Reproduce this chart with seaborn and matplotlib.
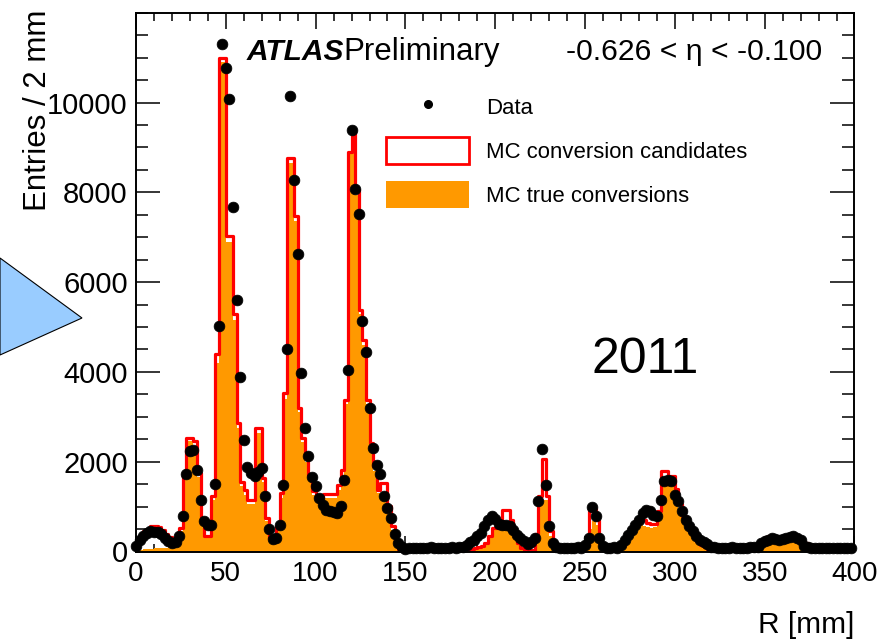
import numpy as np
import pandas as pd
import matplotlib
matplotlib.use("Agg")
import matplotlib.pyplot as plt
import seaborn as sns
from matplotlib.patches import Patch, Polygon
from matplotlib.lines import Line2D
from matplotlib.ticker import MultipleLocator

# ---------------- data (2 mm bins from 0 to 400 mm) ----------------
bin_width_mm = 2
r_min_mm, r_max_mm = 0, 400

# Data entries, one value per bin (marker drawn at the low edge of each bin)
data_entries = [
    133, 250, 340, 410, 450, 445, 430, 390, 300, 240,
    190, 210, 340, 785, 1726, 2230, 2267, 1807, 1155, 674,
    580, 600, 1511, 5022, 11304, 10770, 10074, 7674, 5600, 3881,
    2489, 1880, 1748, 1674, 1760, 1850, 1240, 504, 281, 304,
    600, 1489, 4504, 10155, 8281, 6622, 3970, 2748, 2133, 1652,
    1452, 1193, 1044, 933, 896, 874, 860, 1022, 1600, 4044,
    9378, 8081, 7511, 5141, 4452, 3193, 2304, 1933, 1733, 1230,
    970, 748, 400, 193, 100, 60, 75, 80, 70, 85,
    80, 75, 90, 80, 70, 85, 80, 75, 90, 85,
    95, 110, 150, 208, 267, 341, 415, 578, 711, 785,
    726, 620, 600, 600, 578, 489, 378, 304, 230, 178,
    220, 304, 1119, 2289, 1474, 578, 193, 110, 85, 80,
    75, 85, 80, 90, 80, 150, 304, 993, 785, 304,
    119, 85, 80, 90, 75, 150, 267, 378, 480, 600,
    711, 859, 933, 896, 822, 785, 1156, 1563, 1600, 1563,
    1267, 1118, 896, 711, 578, 452, 341, 267, 207, 156,
    110, 90, 80, 85, 75, 80, 90, 80, 85, 80,
    85, 90, 95, 100, 193, 240, 267, 304, 289, 267,
    280, 310, 330, 341, 300, 267, 133, 95, 85, 80,
    80, 75, 85, 80, 70, 80, 75, 85, 80, 80,
]

# MC conversion candidates (red outline)
mc_candidates = [
    200, 350, 450, 460, 560, 560, 540, 480, 400, 320,
    300, 300, 520, 1750, 2530, 2530, 2450, 1750, 750, 340,
    340, 1230, 4400, 11000, 11000, 7020, 7020, 5280, 2870, 1550,
    1360, 1155, 1155, 2748, 2748, 1637, 750, 300, 270, 560,
    1300, 3526, 8770, 8770, 7470, 3193, 2526, 2100, 1700, 1350,
    1200, 1215, 1290, 1290, 1290, 1290, 1474, 1807, 3378, 8900,
    9340, 8044, 5378, 4711, 3378, 2415, 1896, 1378, 1526, 1526,
    1007, 563, 193, 60, 20, 15, 12, 10, 10, 12,
    10, 12, 10, 10, 12, 15, 10, 12, 15, 20,
    25, 30, 40, 60, 80, 100, 120, 180, 350, 526,
    526, 560, 933, 933, 711, 450, 200, 80, 30, 20,
    30, 400, 1230, 2050, 1230, 450, 100, 20, 15, 10,
    10, 12, 10, 15, 20, 150, 900, 950, 700, 200,
    30, 15, 15, 30, 60, 150, 300, 450, 500, 700,
    750, 700, 640, 620, 620, 900, 1800, 1800, 1690, 1690,
    1400, 1050, 800, 600, 450, 330, 230, 150, 100, 50,
    20, 15, 12, 10, 12, 10, 15, 12, 10, 12,
    15, 20, 30, 80, 180, 330, 340, 340, 280, 260,
    250, 280, 300, 300, 280, 250, 180, 90, 40, 15,
    10, 8, 10, 8, 10, 8, 6, 8, 6, 5,
]

# MC true conversions (orange fill)
mc_true = [
    30, 40, 50, 60, 60, 70, 70, 70, 80, 90,
    120, 200, 450, 1650, 2450, 2450, 2350, 1650, 680, 300,
    300, 1150, 4200, 10900, 10900, 6900, 6900, 5150, 2750, 1450,
    1250, 1050, 1050, 2650, 2650, 1550, 680, 270, 240, 500,
    1200, 3400, 8650, 8650, 7350, 3100, 2430, 2000, 1600, 1250,
    1100, 1120, 1190, 1190, 1190, 1190, 1370, 1700, 3280, 8850,
    8930, 7950, 5280, 4600, 3280, 2320, 1800, 1300, 1250, 1200,
    900, 480, 150, 40, 10, 8, 6, 5, 5, 6,
    5, 6, 5, 5, 6, 8, 5, 6, 8, 10,
    12, 15, 20, 40, 60, 80, 100, 150, 300, 480,
    480, 480, 480, 480, 480, 300, 150, 60, 20, 10,
    20, 300, 1150, 1150, 1150, 350, 60, 10, 6, 5,
    5, 6, 5, 8, 10, 100, 500, 680, 600, 120,
    20, 8, 8, 15, 25, 80, 200, 350, 430, 550,
    580, 560, 540, 530, 540, 800, 1450, 1450, 1450, 1450,
    1200, 900, 700, 500, 380, 280, 190, 110, 60, 30,
    10, 8, 6, 5, 6, 5, 8, 6, 5, 6,
    8, 10, 15, 50, 120, 190, 200, 200, 190, 190,
    190, 200, 210, 220, 200, 180, 120, 60, 20, 8,
    5, 4, 5, 4, 5, 4, 3, 4, 3, 3,
]

x_ticks = [0, 50, 100, 150, 200, 250, 300, 350, 400]
y_ticks = [0, 2000, 4000, 6000, 8000, 10000]
legend_labels = ["Data", "MC conversion candidates", "MC true conversions"]

# ---------------- tables ----------------
edges = [float(e) for e in np.arange(r_min_mm, r_max_mm + bin_width_mm, bin_width_mm)]
low_edges = np.array(edges[:-1])
df = pd.DataFrame({
    "R": low_edges + bin_width_mm / 2,
    "R_low": low_edges,
    "data": data_entries,
    "cand": mc_candidates,
    "true": mc_true,
})

# ---------------- style ----------------
sns.set_style("ticks")
plt.rcParams["font.family"] = ["Liberation Sans", "DejaVu Sans"]
plt.rcParams["axes.linewidth"] = 1.4
plt.rcParams["text.color"] = "black"
plt.rcParams["axes.labelcolor"] = "black"
plt.rcParams["xtick.color"] = "black"
plt.rcParams["ytick.color"] = "black"
plt.rcParams["axes.edgecolor"] = "black"

fig = plt.figure(figsize=(8.78, 6.42), dpi=100)
fig.patch.set_facecolor("white")
ax = fig.add_axes([136 / 878, (642 - 551.5) / 642, 718.5 / 878, (551.5 - 12.7) / 642])

ORANGE = "#ff9900"
RED = "#ff0000"

sns.histplot(data=df, x="R", weights="true", bins=edges, element="step",
             fill=True, color=ORANGE, alpha=1.0, linewidth=0, ax=ax, zorder=1)
sns.histplot(data=df, x="R", weights="cand", bins=edges, element="step",
             fill=False, color=RED, linewidth=2.3, ax=ax, zorder=2)
sns.scatterplot(data=df, x="R_low", y="data", color="black", marker="o", s=60,
                edgecolor="black", linewidth=0.5, ax=ax, zorder=5, clip_on=False)

ax.set_xlim(r_min_mm, r_max_mm)
ax.set_ylim(0, 12000)
ax.set_xticks(x_ticks)
ax.set_yticks(y_ticks)
ax.set_xticklabels([str(t) for t in x_ticks])
ax.set_yticklabels([str(t) for t in y_ticks])
ax.xaxis.set_minor_locator(MultipleLocator(10))
ax.yaxis.set_minor_locator(MultipleLocator(500))

ax.tick_params(which="both", direction="in", top=True, right=True,
               colors="black", labelcolor="black", width=1.1)
ax.tick_params(axis="y", which="major", length=17, pad=6, labelsize=21)
ax.tick_params(axis="y", which="minor", length=8.6)
ax.tick_params(axis="x", which="major", length=11.5, pad=7, labelsize=20)
ax.tick_params(axis="x", which="minor", length=5.8)
for sp in ax.spines.values():
    sp.set_color("black")
    sp.set_linewidth(1.4)

ax.set_ylabel("Entries / 2 mm", fontsize=22.5, loc="top", color="black")
ax.yaxis.set_label_coords(-0.116, 1.005)
ax.set_xlabel("R [mm]", fontsize=21.5, loc="right", color="black")
ax.xaxis.set_label_coords(1.0, -0.111)

# texts
ax.text(0.154, 0.912, "ATLAS", transform=ax.transAxes, fontsize=21.5,
        fontweight="bold", fontstyle="italic", va="baseline")
ax.text(0.288, 0.912, "Preliminary", transform=ax.transAxes, fontsize=22.5, va="baseline")
ax.text(0.598, 0.912, "-0.626 < η < -0.100", transform=ax.transAxes, fontsize=21.7, va="baseline")
ax.text(0.709, 0.356, "2011", transform=ax.transAxes, fontsize=36, ha="center", va="center")

# legend
handles = [
    Line2D([], [], marker="o", color="black", linestyle="none", markersize=5.5),
    Patch(facecolor="white", edgecolor=RED, linewidth=2.0),
    Patch(facecolor=ORANGE, edgecolor="none"),
]
ax.legend(handles, legend_labels, loc="upper left", bbox_to_anchor=(0.348, 0.85),
          frameon=False, fontsize=15.9, handlelength=3.76, handleheight=1.5,
          labelspacing=0.76, handletextpad=0.78, borderpad=0, borderaxespad=0)

# decorative blue triangle on the left
tri = Polygon([[0, 1 - 258 / 642], [82 / 878, 1 - 318 / 642], [0, 1 - 355 / 642]],
              closed=True, transform=fig.transFigure, facecolor="#99ccff",
              edgecolor="black", linewidth=0.8)
fig.add_artist(tri)

fig.savefig("out.png", dpi=100, facecolor="white")
